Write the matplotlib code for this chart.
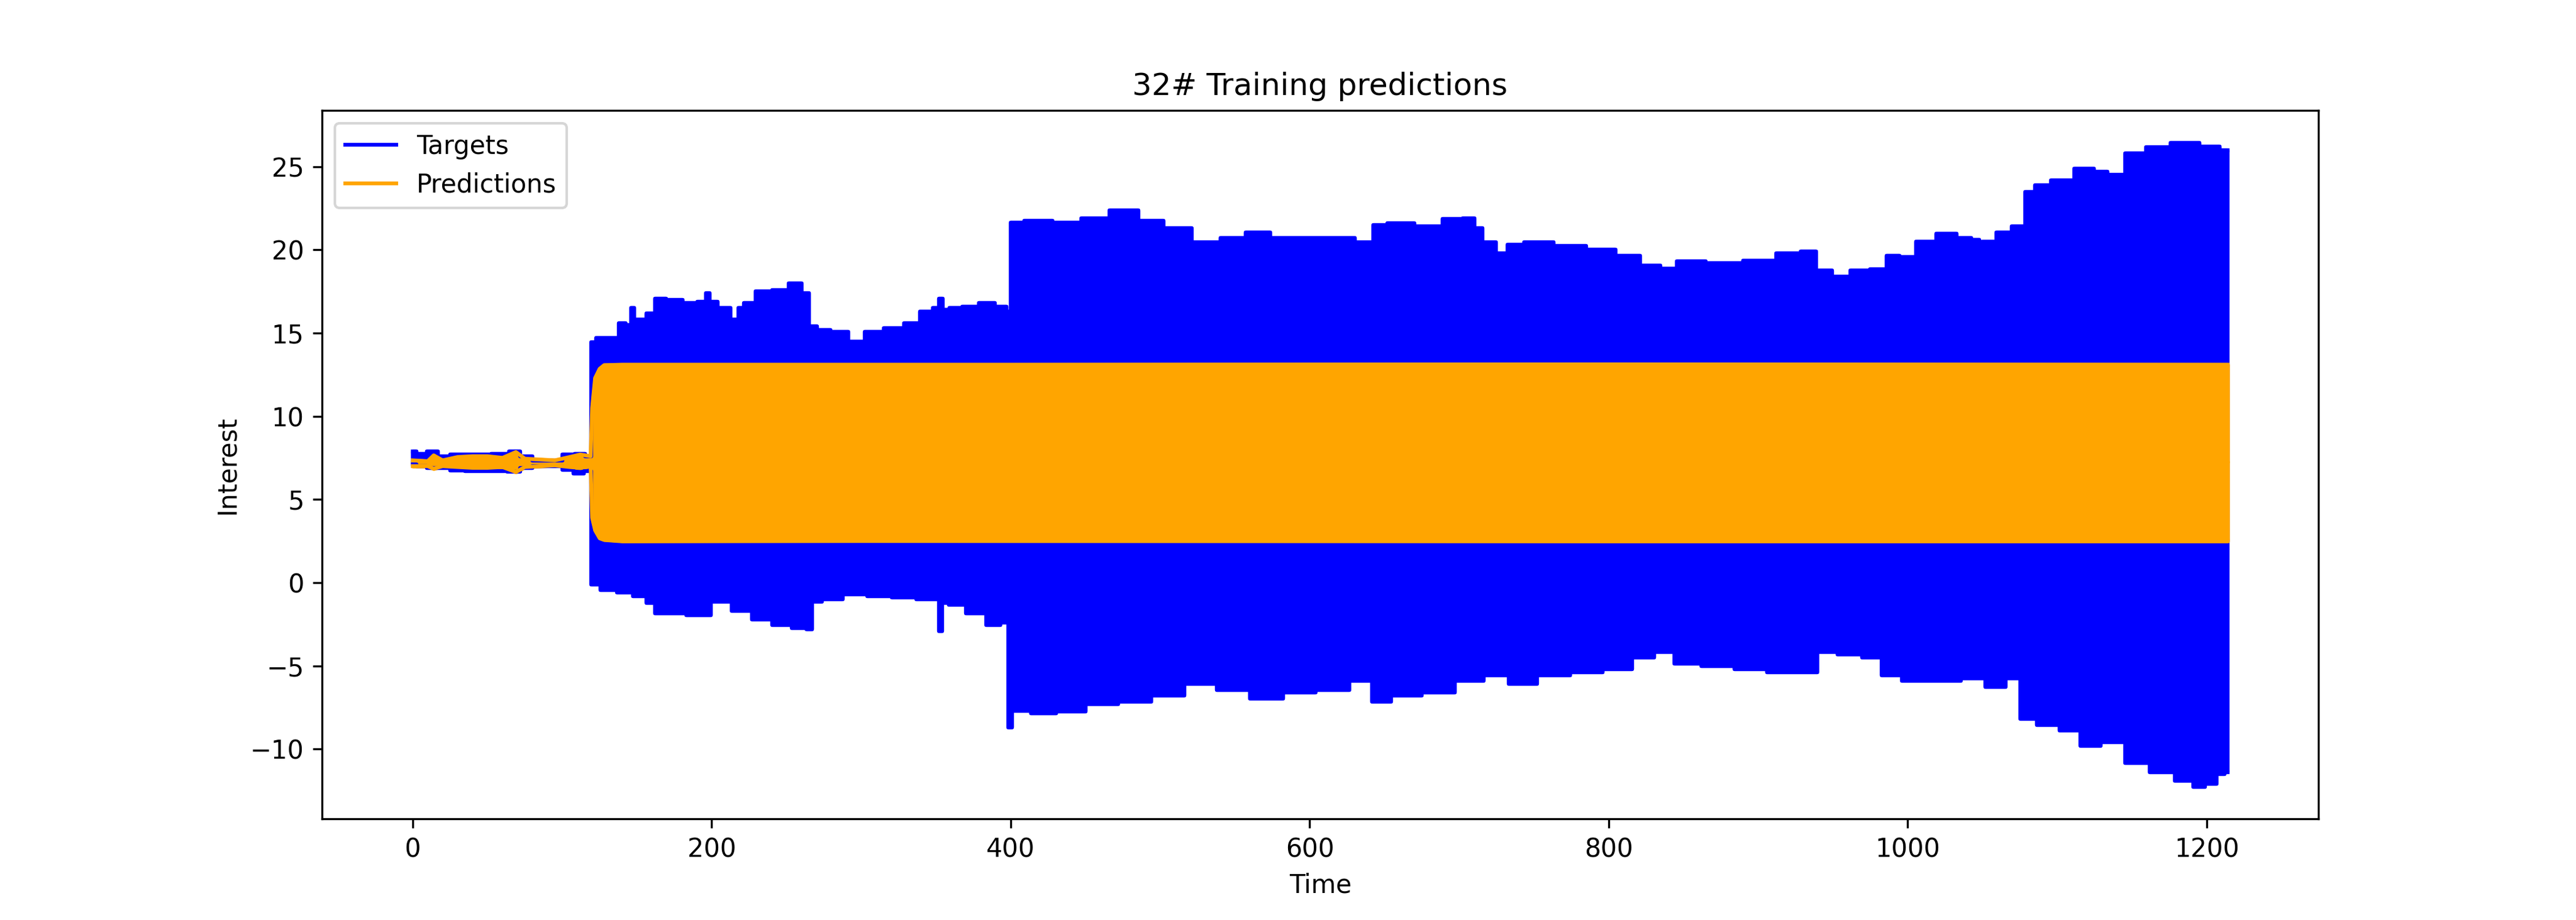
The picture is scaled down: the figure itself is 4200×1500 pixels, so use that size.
import numpy as np
import matplotlib
matplotlib.use("Agg")
import matplotlib.pyplot as plt

# Envelope of the (rapidly oscillating) target series: upper and lower edges
target_upper_t = [0, 5, 14, 20, 30, 45, 60, 69, 75, 85, 95, 105, 112, 119,
                  120, 125, 136, 140, 145, 147, 149, 153, 160, 164, 175, 186, 195, 197, 200,
                  208, 217, 219, 224, 235, 246, 257, 263, 267, 274, 285, 298, 307, 323, 334,
                  345, 351, 353, 356, 362, 373, 384, 395, 399, 401, 417, 439, 455, 477, 494,
                  510, 532, 549, 565, 582, 604, 620, 640, 645, 659, 681, 697, 708, 712, 719,
                  730, 735, 752, 774, 796, 813, 829, 840, 851, 879, 901, 923, 934, 943, 956,
                  967, 983, 989, 1000, 1011, 1027, 1038, 1047, 1049, 1051, 1055, 1064, 1075,
                  1082, 1088, 1104, 1119, 1130, 1137, 1154, 1165, 1187, 1203, 1214]
target_upper = [7.9, 7.75, 7.9, 7.6, 7.7, 7.7, 7.75, 7.9, 7.6, 7.35, 7.35, 7.7, 7.75, 7.6,
                14.46, 14.7, 14.7, 15.6, 15.5, 16.5, 15.8, 15.8, 16.2, 17.07, 17.0, 16.8, 16.9, 17.4, 16.9,
                16.5, 15.8, 16.5, 16.8, 17.5, 17.6, 17.98, 17.4, 15.4, 15.2, 15.06, 14.5, 15.06, 15.3, 15.6,
                16.3, 16.5, 17.07, 16.4, 16.5, 16.6, 16.8, 16.6, 16.3, 21.65, 21.76, 21.65, 21.9, 22.36, 21.76,
                21.3, 20.45, 20.7, 21.05, 20.7, 20.7, 20.7, 20.45, 21.5, 21.6, 21.4, 21.86, 21.9, 21.3, 20.45,
                19.8, 20.3, 20.45, 20.24, 20.0, 19.64, 19.04, 18.87, 19.3, 19.2, 19.36, 19.8, 19.9, 18.76, 18.4,
                18.76, 18.83, 19.64, 19.57, 20.5, 20.98, 20.7, 20.6, 19.5, 20.5, 20.5, 21.05, 21.4,
                23.5, 23.87, 24.2, 24.9, 24.7, 24.5, 25.8, 26.16, 26.45, 26.2, 26.0]

target_lower_t = [0, 5, 14, 20, 30, 40, 57, 69, 75, 85, 95, 105, 110, 119,
                  120, 131, 142, 153, 160, 164, 175, 191, 208, 219, 235, 246, 261, 266, 268,
                  279, 296, 312, 329, 345, 351, 353, 355, 362, 378, 389, 397, 400, 402, 405,
                  422, 439, 461, 483, 505, 527, 549, 571, 593, 615, 638, 645, 664, 686, 708,
                  725, 741, 763, 785, 807, 824, 837, 851, 873, 895, 917, 934, 945, 961, 978,
                  987, 1005, 1027, 1044, 1060, 1071, 1080, 1093, 1110, 1121, 1137, 1154, 1170,
                  1187, 1195, 1203, 1210, 1214]
target_lower = [7.1, 7.0, 6.9, 6.9, 6.75, 6.72, 6.72, 6.66, 6.9, 7.0, 7.0, 6.8, 6.55, 6.7,
                -0.1, -0.45, -0.6, -0.8, -1.2, -1.86, -1.86, -1.96, -1.15, -1.68, -2.2, -2.56, -2.74, -2.8, -1.15,
                -0.98, -0.7, -0.8, -0.9, -0.98, -1.0, -2.9, -1.2, -1.33, -1.86, -2.56, -2.39, -8.7, -7.7, -7.7,
                -7.85, -7.75, -7.3, -7.15, -6.8, -6.1, -6.45, -6.97, -6.6, -6.45, -5.9, -7.15, -6.8, -6.6, -5.9,
                -5.56, -6.1, -5.56, -5.38, -5.2, -4.5, -4.15, -4.85, -5.03, -5.2, -5.38, -5.38, -4.15, -4.33, -4.5,
                -5.56, -5.9, -5.9, -5.74, -6.27, -5.74, -8.2, -8.56, -8.9, -9.8, -9.6, -10.85, -11.4,
                -11.9, -12.26, -12.1, -11.5, -11.4]

# Envelope of the prediction series
pred_upper_t = [0, 10, 14, 20, 30, 40, 50, 60, 69, 75, 85, 95, 105, 112, 119,
                120, 122, 125, 128, 140, 400, 800, 1214]
pred_upper = [7.35, 7.3, 7.65, 7.35, 7.55, 7.6, 7.6, 7.5, 7.85, 7.45, 7.4, 7.35, 7.55, 7.7, 7.6,
              10.5, 12.3, 12.85, 13.07, 13.1, 13.1, 13.12, 13.1]
pred_lower_t = [0, 10, 14, 20, 30, 40, 50, 60, 69, 75, 85, 95, 105, 112, 119,
                120, 122, 125, 128, 140, 300, 800, 1214]
pred_lower = [7.0, 7.0, 6.85, 7.0, 6.95, 6.9, 6.9, 6.95, 6.65, 6.95, 7.0, 7.05, 6.95, 6.9, 7.0,
              3.9, 3.15, 2.68, 2.58, 2.5, 2.52, 2.5, 2.5]

MID = 7.25  # value the oscillations swing around

fig, ax = plt.subplots(figsize=(14, 5), dpi=300)

def band(ax, tu, u, tl, l, color, label, step):
    ds = "steps-mid" if step else "default"
    st = "mid" if step else None
    ax.fill_between(tu, u, MID, step=st, color=color, linewidth=1.5, edgecolor=color)
    ax.fill_between(tl, MID, l, step=st, color=color, linewidth=1.5, edgecolor=color)
    ax.plot(tu, u, color=color, linewidth=1.5, drawstyle=ds, label=label)
    ax.plot(tl, l, color=color, linewidth=1.5, drawstyle=ds)

band(ax, target_upper_t, target_upper, target_lower_t, target_lower, "blue", "Targets", True)
band(ax, pred_upper_t, pred_upper, pred_lower_t, pred_lower, "orange", "Predictions", False)

ax.set_title("32# Training predictions")
ax.set_xlabel("Time")
ax.set_ylabel("Interest")
ax.legend(loc="upper left")

fig.savefig("out.png", dpi=300)
